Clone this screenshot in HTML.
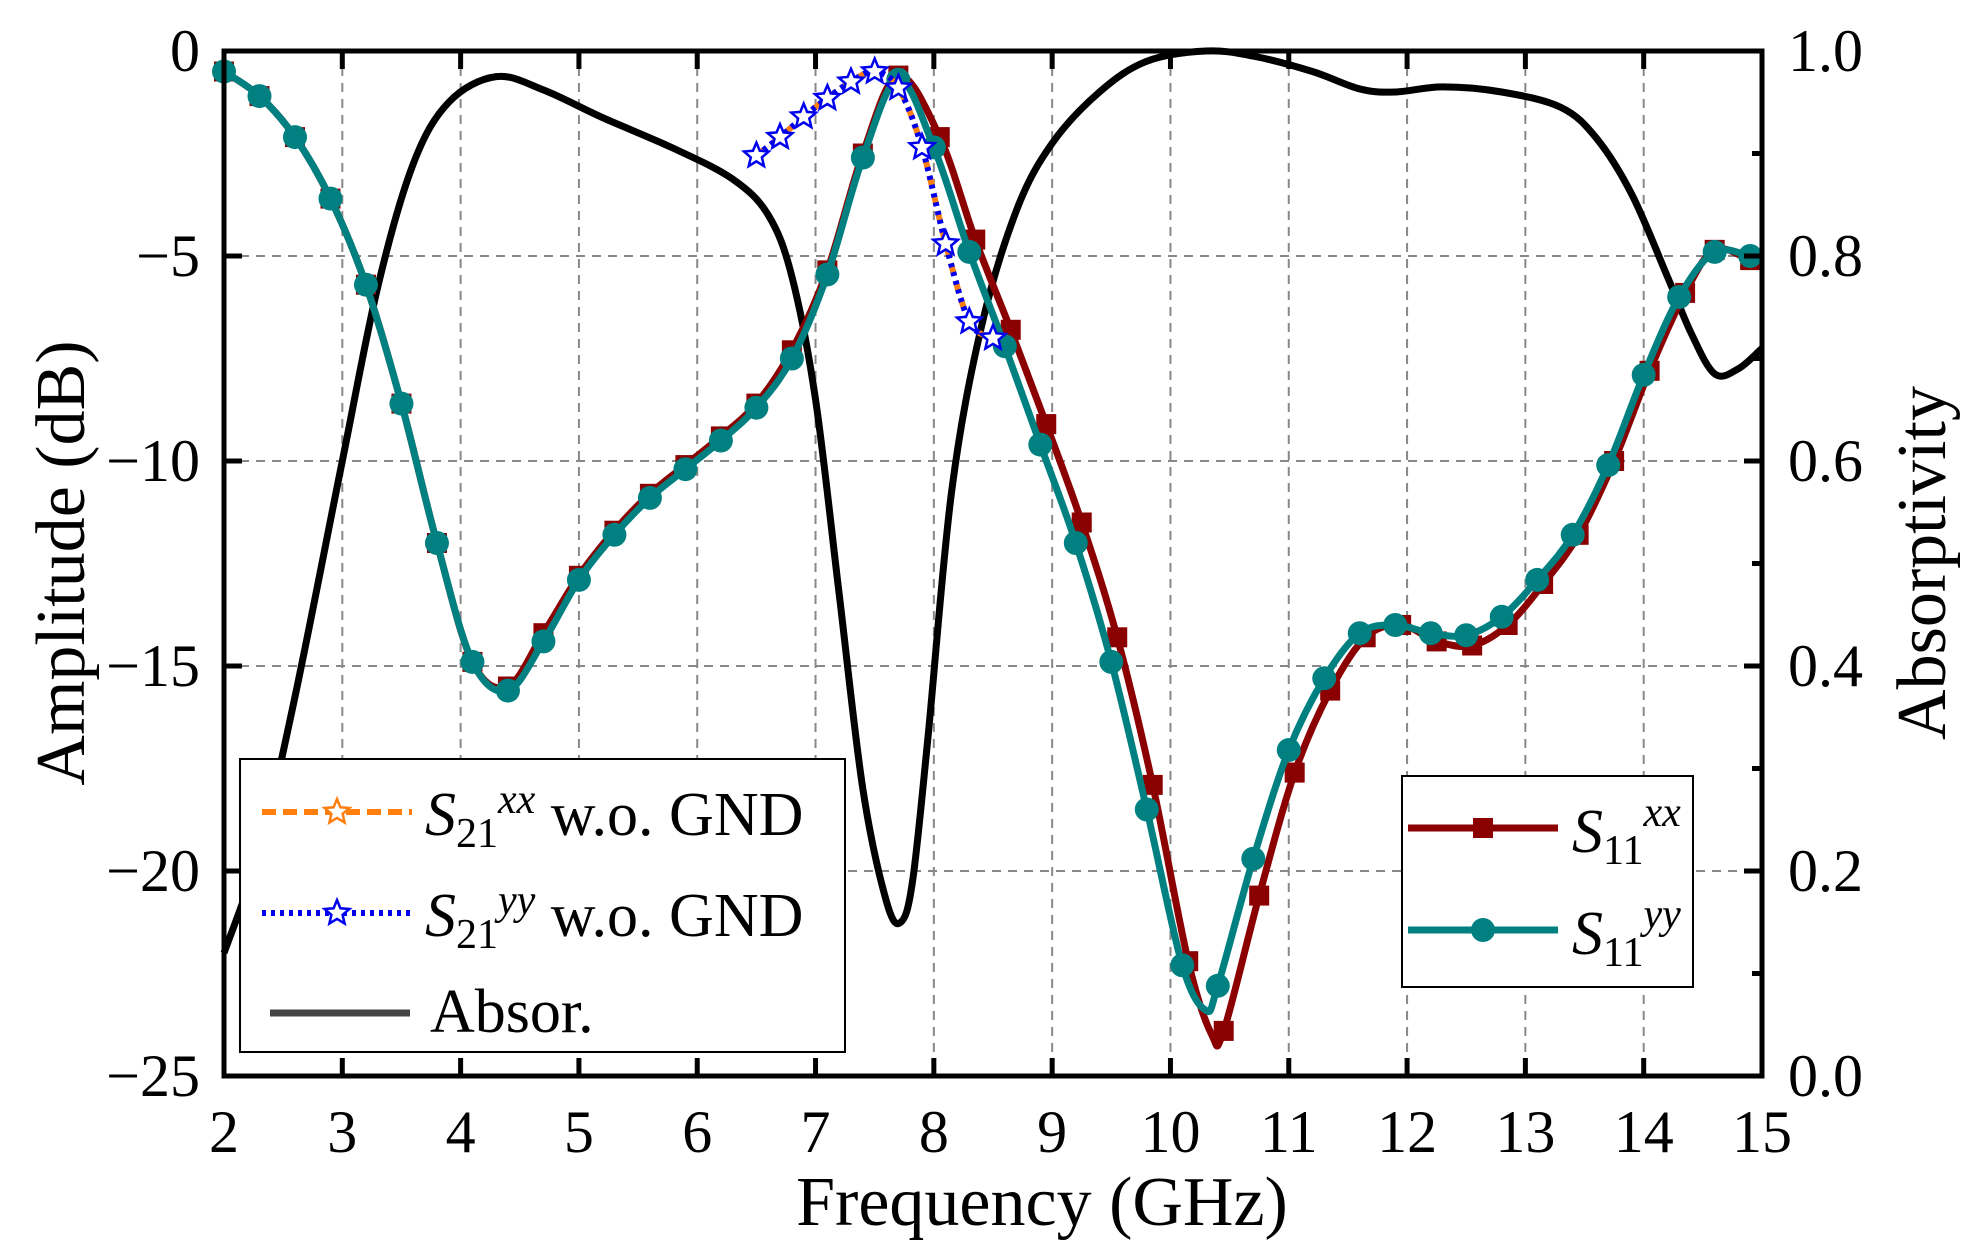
<!DOCTYPE html>
<html><head><meta charset="utf-8"><style>
html,body{margin:0;padding:0;background:#fff;}
svg{display:block;font-family:"Liberation Serif","DejaVu Serif",serif;}
</style></head><body>
<svg id="s" width="1978" height="1251" viewBox="0 0 1978 1251" xmlns="http://www.w3.org/2000/svg"></svg>
<script>
const S=document.getElementById('s');
const L=224,R=1762,T=51,B=1076;
const X=f=>L+(f-2)*(R-L)/13, Y=d=>T+(-d)*(B-T)/25, YA=a=>B-a*(B-T);
let h='';
for(let f=3;f<15;f++)h+=`<line x1="${X(f)}" y1="${T}" x2="${X(f)}" y2="${B}" stroke="#888" stroke-width="2" stroke-dasharray="9,7"/>`;
for(let d=-5;d>-25;d-=5)h+=`<line x1="${L}" y1="${Y(d)}" x2="${R}" y2="${Y(d)}" stroke="#888" stroke-width="2" stroke-dasharray="9,7"/>`;
function path(pts,fx,fy){
 let P=pts.map(p=>[fx(p[0]),fy(p[1])]);let s=`M${P[0][0]},${P[0][1]}`;
 for(let i=0;i<P.length-1;i++){const p0=P[Math.max(i-1,0)],p1=P[i],p2=P[i+1],p3=P[Math.min(i+2,P.length-1)];
  s+=` C${p1[0]+(p2[0]-p0[0])/6},${p1[1]+(p2[1]-p0[1])/6} ${p2[0]-(p3[0]-p1[0])/6},${p2[1]-(p3[1]-p1[1])/6} ${p2[0]},${p2[1]}`;}
 return s;}
const A=[[2,0.12],[2.3,0.22],[2.6,0.37],[3.0,0.6],[3.3,0.77],[3.6,0.89],[3.9,0.95],[4.3,0.975],[4.7,0.962],[5.2,0.935],[5.8,0.905],[6.3,0.875],[6.6,0.84],[6.8,0.78],[7.0,0.66],[7.2,0.47],[7.4,0.28],[7.6,0.17],[7.72,0.15],[7.82,0.19],[7.95,0.33],[8.15,0.57],[8.4,0.73],[8.7,0.845],[9.0,0.91],[9.4,0.96],[9.8,0.99],[10.3,1.0],[10.7,0.995],[11.2,0.98],[11.6,0.963],[11.9,0.96],[12.3,0.965],[12.8,0.96],[13.3,0.945],[13.6,0.915],[13.9,0.86],[14.2,0.78],[14.4,0.725],[14.6,0.685],[14.8,0.69],[15.0,0.71]];
const yy=[[2,-0.5],[2.3,-1.1],[2.6,-2.1],[2.9,-3.6],[3.2,-5.7],[3.5,-8.6],[3.8,-12.0],[4.1,-14.9],[4.4,-15.6],[4.7,-14.4],[5.0,-12.9],[5.3,-11.8],[5.6,-10.9],[5.9,-10.2],[6.2,-9.5],[6.5,-8.7],[6.8,-7.5],[7.1,-5.45],[7.4,-2.6],[7.7,-0.7],[8.0,-2.35],[8.3,-4.9],[8.6,-7.2],[8.9,-9.6],[9.2,-12.0],[9.5,-14.9],[9.8,-18.5],[10.1,-22.3],[10.3,-23.4],[10.4,-22.8],[10.7,-19.7],[11.0,-17.05],[11.3,-15.3],[11.6,-14.2],[11.9,-14.0],[12.2,-14.2],[12.5,-14.25],[12.8,-13.8],[13.1,-12.9],[13.4,-11.8],[13.7,-10.1],[14.0,-7.9],[14.3,-6.0],[14.6,-4.9],[14.9,-5.0],[15,-5.0]];
const xx=[[2,-0.5],[2.3,-1.1],[2.6,-2.1],[2.9,-3.6],[3.2,-5.7],[3.5,-8.6],[3.8,-12.0],[4.1,-14.9],[4.4,-15.5],[4.7,-14.2],[5.0,-12.8],[5.3,-11.7],[5.6,-10.8],[5.9,-10.1],[6.2,-9.4],[6.5,-8.6],[6.8,-7.3],[7.1,-5.35],[7.4,-2.5],[7.7,-0.6],[8.05,-2.1],[8.35,-4.6],[8.65,-6.8],[8.95,-9.1],[9.25,-11.5],[9.55,-14.3],[9.85,-17.9],[10.15,-22.2],[10.35,-24.0],[10.45,-23.9],[10.75,-20.6],[11.05,-17.6],[11.35,-15.6],[11.65,-14.3],[11.95,-14.0],[12.25,-14.4],[12.55,-14.5],[12.85,-14.0],[13.15,-13.0],[13.45,-11.8],[13.75,-10.0],[14.05,-7.8],[14.35,-5.9],[14.6,-4.85],[14.9,-5.1],[15,-5.2]];
const s21=[[6.5,-2.55],[6.7,-2.1],[6.9,-1.6],[7.1,-1.15],[7.3,-0.75],[7.5,-0.5],[7.7,-0.9],[7.9,-2.35],[8.1,-4.7],[8.3,-6.6],[8.5,-7.0]];
h+=`<path d="${path(A,X,YA)}" fill="none" stroke="#000" stroke-width="7"/>`;
h+=`<path d="${path(xx,X,Y)}" fill="none" stroke="#8b0000" stroke-width="7"/>`;
xx.forEach(p=>{if([10.35,15].includes(p[0]))return;h+=`<rect x="${X(p[0])-10}" y="${Y(p[1])-10}" width="20" height="20" fill="#8b0000"/>`;});
h+=`<path d="${path(yy,X,Y)}" fill="none" stroke="#008080" stroke-width="7"/>`;
yy.forEach(p=>{if([10.3,15].includes(p[0]))return;h+=`<circle cx="${X(p[0])}" cy="${Y(p[1])}" r="12" fill="#008080"/>`;});
function star(cx,cy,r,col){let pts=[];for(let i=0;i<10;i++){const a=-Math.PI/2+i*Math.PI/5,rr=i%2?r*0.45:r;pts.push((cx+rr*Math.cos(a)).toFixed(1)+','+(cy+rr*Math.sin(a)).toFixed(1));}
 return `<polygon points="${pts.join(' ')}" fill="#fff" stroke="${col}" stroke-width="2.5"/>`;}
h+=`<path d="${path(s21,X,Y)}" fill="none" stroke="#ff7f0e" stroke-width="6" stroke-dasharray="12,6"/>`;
h+=`<path d="${path(s21,X,Y)}" fill="none" stroke="#0000ee" stroke-width="6" stroke-dasharray="4,5"/>`;
s21.forEach(p=>{h+=star(X(p[0]),Y(p[1]),13,'#0000ee');});
h+=`<rect x="${L}" y="${T}" width="${R-L}" height="${B-T}" fill="none" stroke="#000" stroke-width="5"/>`;
for(let f=2;f<=15;f++){h+=`<line x1="${X(f)}" y1="${B}" x2="${X(f)}" y2="${B-18}" stroke="#000" stroke-width="5"/><line x1="${X(f)}" y1="${T}" x2="${X(f)}" y2="${T+18}" stroke="#000" stroke-width="5"/>`;
 h+=`<text x="${X(f)}" y="1152" font-size="60" text-anchor="middle">${f}</text>`;}
for(let d=0;d>=-25;d-=5){h+=`<line x1="${L}" y1="${Y(d)}" x2="${L+18}" y2="${Y(d)}" stroke="#000" stroke-width="5"/>`;
 h+=`<text x="200" y="${Y(d)+20}" font-size="60" text-anchor="end">${d<0?'\u2212'+(-d):'0'}</text>`;}
for(let i=0;i<=10;i++){const y=YA(i/10);h+=`<line x1="${R}" y1="${y}" x2="${R-(i%2?10:18)}" y2="${y}" stroke="#000" stroke-width="5"/>`;
 if(i%2==0)h+=`<text x="1788" y="${y+20}" font-size="60">${(i/10).toFixed(1)}</text>`;}
h+=`<text x="1042" y="1225" font-size="70" text-anchor="middle">Frequency (GHz)</text>`;
h+=`<text transform="translate(84,563) rotate(-90)" font-size="70" text-anchor="middle">Amplitude (dB)</text>`;
h+=`<text transform="translate(1945,563) rotate(-90)" font-size="70" text-anchor="middle">Absorptivity</text>`;
h+=`<rect x="240" y="759" width="605" height="293" fill="#fff" stroke="#000" stroke-width="2"/>`;
h+=`<line x1="262" y1="812" x2="412" y2="812" stroke="#ff7f0e" stroke-width="6" stroke-dasharray="14,7"/>`+star(337,812,13,'#ff7f0e');
h+=`<line x1="262" y1="913" x2="412" y2="913" stroke="#0000ee" stroke-width="6" stroke-dasharray="4,5"/>`+star(337,913,13,'#0000ee');
h+=`<line x1="270" y1="1013" x2="410" y2="1013" stroke="#444" stroke-width="7"/>`;
h+=`<text x="425" y="835" font-size="62"><tspan font-style="italic">S</tspan><tspan font-size="42" dy="12">21</tspan><tspan font-size="42" font-style="italic" dy="-34">xx</tspan><tspan dy="22"> w.o. GND</tspan></text>`;
h+=`<text x="425" y="936" font-size="62"><tspan font-style="italic">S</tspan><tspan font-size="42" dy="12">21</tspan><tspan font-size="42" font-style="italic" dy="-34">yy</tspan><tspan dy="22"> w.o. GND</tspan></text>`;
h+=`<text x="430" y="1032" font-size="62">Absor.</text>`;
h+=`<rect x="1402" y="776" width="291" height="211" fill="#fff" stroke="#000" stroke-width="2"/>`;
h+=`<line x1="1408" y1="828" x2="1558" y2="828" stroke="#8b0000" stroke-width="7"/><rect x="1473" y="818" width="20" height="20" fill="#8b0000"/>`;
h+=`<line x1="1408" y1="930" x2="1558" y2="930" stroke="#008080" stroke-width="7"/><circle cx="1483" cy="930" r="12" fill="#008080"/>`;
h+=`<text x="1572" y="852" font-size="62"><tspan font-style="italic">S</tspan><tspan font-size="42" dy="12">11</tspan><tspan font-size="42" font-style="italic" dy="-38">xx</tspan></text>`;
h+=`<text x="1572" y="954" font-size="62"><tspan font-style="italic">S</tspan><tspan font-size="42" dy="12">11</tspan><tspan font-size="42" font-style="italic" dy="-38">yy</tspan></text>`;
S.innerHTML=h;
</script>
</body></html>
